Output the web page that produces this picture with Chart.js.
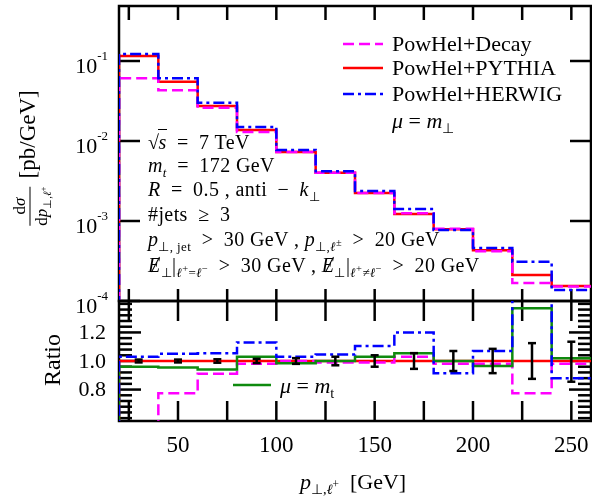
<!DOCTYPE html>
<html lang="en">
<head>
<meta charset="UTF-8">
<title>pT lepton - PowHel</title>
<script src="https://cdn.jsdelivr.net/npm/chart.js"></script>
<style>
  body { margin: 0; background: #fff; font-family: "Liberation Serif", serif; }
  #wrap { position: relative; width: 592px; height: 499px; overflow: hidden; }
  canvas { position: absolute; left: 0; }
  .t { position: absolute; white-space: nowrap; color: #000; line-height: 1; transform: translateY(-50%); }
  sub, sup { font-size: 0.65em; line-height: 0; }
  sub sup, sup sub { font-size: 0.8em; }
  .ann { font-size: 20px; letter-spacing: 0.4px; }
  .leg { font-size: 22px; }
  .ov { border-top: 1px solid #000; padding-top: 1px; margin-left: -1px; }
  .sl { position: relative; display: inline-block; }
  .sl .bar { position: absolute; left: 7px; top: 1px; width: 1.3px; height: 17px; background: #000; transform: rotate(28deg); }
  .rot { position: absolute; white-space: nowrap; transform: translate(-50%, -50%) rotate(-90deg); line-height: 1; }
  .frac { display: inline-block; vertical-align: middle; text-align: center; font-size: 17px; margin-right: 8px; }
  .frac .num { display: block; border-bottom: 1px solid #000; padding: 0 2px 2px; }
  .frac .den { display: block; padding-top: 2px; }
</style>
</head>
<body>
<div id="wrap">
  <canvas id="top" width="592" height="320" style="top:0"></canvas>
  <canvas id="ratio" width="592" height="209" style="top:290px"></canvas>

  <div class="rot" style="left:30px; top:158px; font-size:23px;">
    <span class="frac"><span class="num">d<i>σ</i></span><span class="den">d<i>p</i><sub>⊥,<i>ℓ</i><sup>+</sup></sub></span></span>[pb/GeV]
  </div>
  <div class="rot" style="left:52px; top:360px; font-size:24px;">Ratio</div>

  <div class="t ann" style="left:148px; top:142px;">√<span class="ov"><i>s</i></span>&ensp;=&ensp;7 TeV</div>
  <div class="t ann" style="left:148px; top:165px;"><i>m<sub>t</sub></i>&ensp;=&ensp;172 GeV</div>
  <div class="t ann" style="left:148px; top:189px;"><i>R</i>&ensp;=&ensp;0.5 , anti&ensp;−&ensp;<i>k</i><sub>⊥</sub></div>
  <div class="t ann" style="left:148px; top:214px;">#jets&ensp;≥&ensp;3</div>
  <div class="t ann" style="left:148px; top:239px;"><i>p</i><sub>⊥, jet</sub>&ensp;&gt;&ensp;30 GeV ,  <i>p</i><sub>⊥,<i>ℓ</i><sup>±</sup></sub>&ensp;&gt;&ensp;20 GeV</div>
  <div class="t ann" style="left:148px; top:265px;"><span class="sl"><i>E</i><span class="bar"></span></span><sub>⊥</sub>|<sub><i>ℓ</i><sup>+</sup>=<i>ℓ</i><sup>−</sup></sub>&ensp;&gt;&ensp;30 GeV ,  <span class="sl"><i>E</i><span class="bar"></span></span><sub>⊥</sub>|<sub><i>ℓ</i><sup>+</sup>≠<i>ℓ</i><sup>−</sup></sub>&ensp;&gt;&ensp;20 GeV</div>

  <svg style="position:absolute; left:343px; top:30px;" width="42" height="80">
    <line x1="0" y1="14" x2="40" y2="14" stroke="#ff00ff" stroke-width="2.5" stroke-dasharray="11,5"/>
    <line x1="0" y1="38" x2="40" y2="38" stroke="#ff0000" stroke-width="2.5"/>
    <line x1="0" y1="64" x2="40" y2="64" stroke="#0000ff" stroke-width="2.5" stroke-dasharray="11,4,3,4"/>
  </svg>
  <div class="t leg" style="left:392px; top:44px;">PowHel+Decay</div>
  <div class="t leg" style="left:392px; top:68px;">PowHel+PYTHIA</div>
  <div class="t leg" style="left:392px; top:94px;">PowHel+HERWIG</div>
  <div class="t leg" style="left:392px; top:121px;"><i>μ</i> = <i>m</i><sub>⊥</sub></div>

  <svg style="position:absolute; left:233px; top:380px;" width="40" height="10">
    <line x1="0" y1="5" x2="38" y2="5" stroke="#0f8a0f" stroke-width="2.5"/>
  </svg>
  <div class="t leg" style="left:280px; top:386px;"><i>μ</i> = <i>m</i><sub>t</sub></div>

  <div class="t leg" style="left:300px; top:482px;"><i>p</i><sub>⊥,<i>ℓ</i><sup>+</sup></sub>&ensp;[GeV]</div>
</div>

<script>
// bin edges (GeV) and bin centres
const edges = [20, 40, 60, 80, 100, 120, 140, 160, 180, 200, 220, 240, 260];
const centres = [30, 50, 70, 90, 110, 130, 150, 170, 190, 210, 230, 250];

// dsigma/dpT [pb/GeV]
const decay  = [0.061, 0.043, 0.026, 0.0130, 0.0073, 0.0040, 0.00224, 0.00125, 0.00080, 0.00042, 0.000168, 0.000152];
const pythia = [0.1155, 0.055, 0.0274, 0.0137, 0.0073, 0.0040, 0.00224, 0.00122, 0.00079, 0.00043, 0.000211, 0.000154];
const herwig = [0.122, 0.061, 0.030, 0.0150, 0.0077, 0.0042, 0.00237, 0.00141, 0.00077, 0.00046, 0.00031, 0.000137];

// ratios to PowHel+PYTHIA
const rDecay  = [0.51, 0.775, 0.91, 0.98, 1.0, 0.99, 0.99, 1.03, 0.98, 0.98, 0.775, 0.98];
const rPythia = [1, 1, 1, 1, 1, 1, 1, 1, 1, 1, 1, 1];
const rHerwig = [1.03, 1.05, 1.055, 1.13, 1.03, 1.045, 1.105, 1.2, 0.915, 1.07, 1.47, 0.88];
const rMt     = [0.96, 0.955, 0.94, 1.03, 0.985, 1.0, 1.03, 1.055, 1.0, 0.965, 1.37, 1.02];
const errMid  = [1, 1, 1, 1, 1, 1, 1, 1, 1, 1, 1, 0.995];
const errHalf = [0.01, 0.01, 0.012, 0.015, 0.02, 0.03, 0.04, 0.055, 0.07, 0.085, 0.125, 0.14];

// tick labels
const xTickLabels = [50, 100, 150, 200, 250];
const logTickExp = [-1, -2, -3, -4];
const ratioTickLabels = ['0.8', '1.0', '1.2'];

function steps(vals, floor) {
  const pts = [{ x: edges[0], y: floor }];
  vals.forEach((v, i) => pts.push({ x: edges[i], y: v }));
  pts.push({ x: edges[edges.length - 1], y: vals[vals.length - 1] });
  return pts;
}

const FONT = '"Liberation Serif", serif';

function line(ctx, x1, y1, x2, y2) {
  ctx.beginPath(); ctx.moveTo(x1, y1); ctx.lineTo(x2, y2); ctx.stroke();
}

const framePlugin = {
  id: 'frame',
  beforeDatasetsDraw(chart, args, o) {
    const { ctx, chartArea: a, scales: { x, y } } = chart;
    ctx.save();
    ctx.strokeStyle = '#000';
    ctx.lineWidth = 2.5;
    ctx.strokeRect(a.left, a.top, a.right - a.left, a.bottom - a.top);
    for (let v = 25; v <= 250; v += 25) {
      const px = x.getPixelForValue(v);
      line(ctx, px, a.top, px, a.top + o.xLenTop);
      line(ctx, px, a.bottom, px, a.bottom - o.xLenBot);
    }
    o.yTicks.forEach(t => {
      const py = y.getPixelForValue(t.v);
      line(ctx, a.left, py, a.left + t.len, py);
      line(ctx, a.right, py, a.right - t.len, py);
    });
    ctx.restore();
  },
  afterDatasetsDraw(chart, args, o) {
    const { ctx, scales: { x, y } } = chart;
    if (o.errors) {
      ctx.save();
      ctx.strokeStyle = '#000';
      ctx.lineWidth = 2.5;
      centres.forEach((c, i) => {
        const px = x.getPixelForValue(c);
        const lo = y.getPixelForValue(errMid[i] - errHalf[i]);
        const hi = y.getPixelForValue(errMid[i] + errHalf[i]);
        line(ctx, px, lo, px, hi);
        line(ctx, px - 4, lo, px + 4, lo);
        line(ctx, px - 4, hi, px + 4, hi);
      });
      ctx.restore();
    }
    if (o.labels) o.labels(chart);
  }
};

function stepSet(data, color, dash, order) {
  return {
    data, borderColor: color, borderWidth: 2.5, borderDash: dash,
    stepped: 'before', pointRadius: 0, fill: false, order
  };
}

const common = {
  responsive: false,
  animation: false,
  events: [],
  plugins: { legend: { display: false }, tooltip: { enabled: false } }
};

const majorLog = logTickExp.map(e => ({ v: Math.pow(10, e), len: 21 }));

new Chart(document.getElementById('top'), {
  type: 'line',
  data: {
    datasets: [
      stepSet(steps(decay, 1e-6), '#ff00ff', [11, 5], 2),
      stepSet(steps(pythia, 1e-6), '#ff0000', [], 3),
      stepSet(steps(herwig, 1e-6), '#0000ff', [11, 4, 3, 4], 1)
    ]
  },
  options: {
    ...common,
    layout: { padding: { left: 119, right: 1, top: 6, bottom: 19 } },
    scales: {
      x: { type: 'linear', min: 20, max: 260, display: false },
      y: { type: 'logarithmic', min: 1e-4, max: Math.pow(10, -0.3125), display: false }
    },
    plugins: {
      ...common.plugins,
      frame: {
        xLenTop: 14, xLenBot: 12, yTicks: majorLog,
        labels(chart) {
          const { ctx, scales: { y } } = chart;
          ctx.save();
          ctx.fillStyle = '#000';
          ctx.textBaseline = 'middle';
          logTickExp.forEach(e => {
            const py = y.getPixelForValue(Math.pow(10, e));
            ctx.font = '13px ' + FONT;
            const sup = '-' + Math.abs(e);
            const sw = ctx.measureText(sup).width;
            ctx.textAlign = 'right';
            ctx.fillText(sup, 108, py - 4);
            ctx.font = '22px ' + FONT;
            ctx.fillText('10', 108 - sw, py + 6);
          });
          ctx.restore();
        }
      }
    }
  },
  plugins: [framePlugin]
});

const ratioTicks = [];
for (let k = 15; k <= 35; k++) {
  const v = k * 0.04;
  const major = [20, 25, 30].includes(k);
  ratioTicks.push({ v, len: major ? 22 : 13 });
}

new Chart(document.getElementById('ratio'), {
  type: 'line',
  data: {
    datasets: [
      stepSet(steps(rDecay, 0), '#ff00ff', [11, 5], 3),
      stepSet(steps(rPythia, 0), '#ff0000', [], 4),
      stepSet(steps(rHerwig, 0), '#0000ff', [11, 4, 3, 4], 1),
      stepSet(steps(rMt, 0), '#0f8a0f', [], 2)
    ]
  },
  options: {
    ...common,
    layout: { padding: { left: 119, right: 1, top: 11, bottom: 78 } },
    scales: {
      x: { type: 'linear', min: 20, max: 260, display: false },
      y: { type: 'linear', min: 0.58, max: 1.42, display: false }
    },
    plugins: {
      ...common.plugins,
      frame: {
        xLenTop: 20, xLenBot: 20, yTicks: ratioTicks, errors: true,
        labels(chart) {
          const { ctx, scales: { x, y } } = chart;
          ctx.save();
          ctx.fillStyle = '#000';
          ctx.textBaseline = 'middle';
          ctx.font = '22px ' + FONT;
          ctx.textAlign = 'right';
          ratioTickLabels.forEach(l => ctx.fillText(l, 106, y.getPixelForValue(parseFloat(l)) + 1));
          ctx.font = '23px ' + FONT;
          ctx.textAlign = 'center';
          xTickLabels.forEach(v => ctx.fillText(String(v), x.getPixelForValue(v), 156));
          ctx.restore();
        }
      }
    }
  },
  plugins: [framePlugin]
});
</script>
</body>
</html>
